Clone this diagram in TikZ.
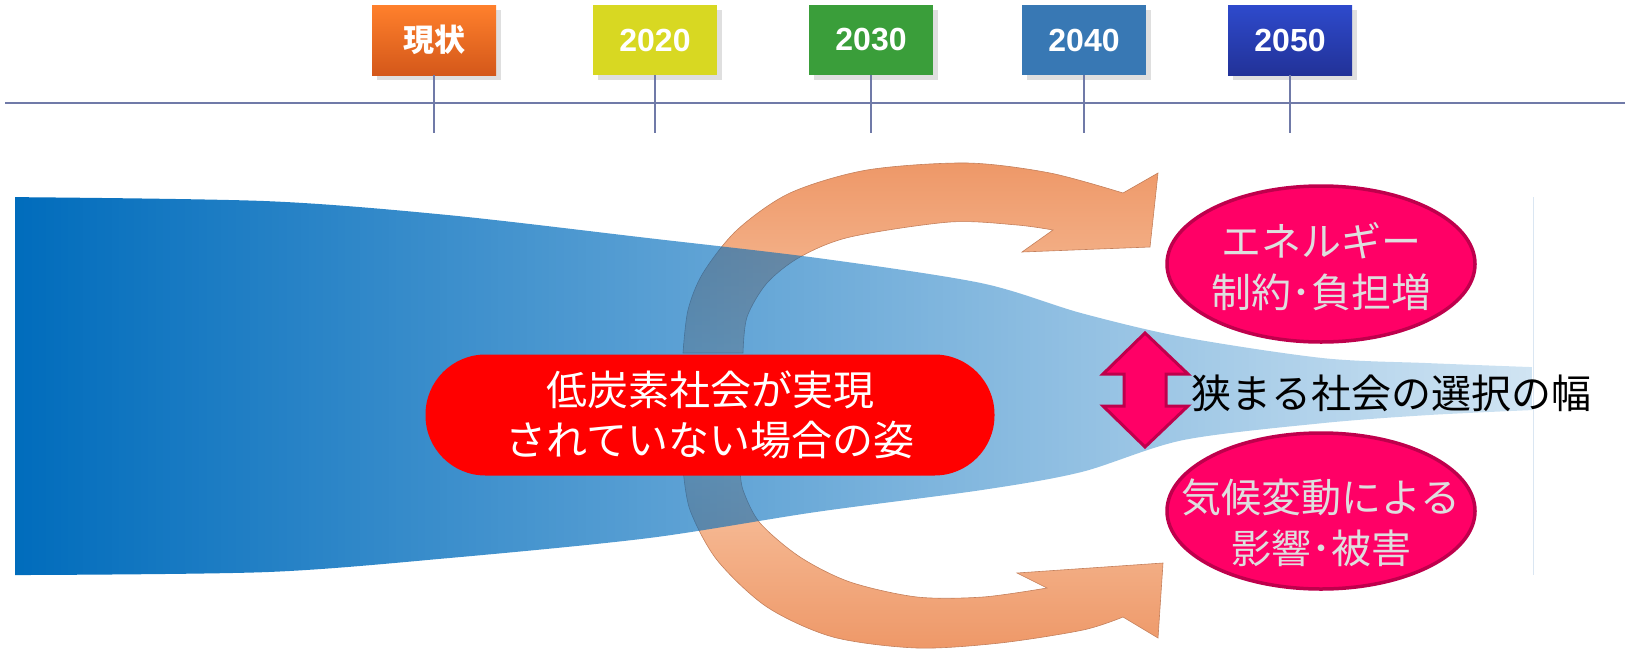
\documentclass[tikz,border=0pt]{standalone}
\usepackage{fontspec}
\setmainfont{Liberation Sans}
\newfontfamily\cjk{Noto Sans CJK JP}
\usetikzlibrary{fadings,shadows,shapes.geometric}

\definecolor{tickline}{RGB}{112,122,168}
\definecolor{bandblue}{RGB}{0,108,188}
\definecolor{bandedge}{RGB}{218,230,242}
\definecolor{peachdark}{RGB}{238,152,104}
\definecolor{peachlight}{RGB}{248,196,162}
\definecolor{peachedge}{RGB}{196,128,92}
\definecolor{outcomepink}{RGB}{255,0,102}
\definecolor{outcomeedge}{RGB}{190,0,76}
\definecolor{outcometext}{RGB}{222,222,222}

\tikzfading[name=bandfade, left color=transparent!0, right color=transparent!82]

\begin{document}
\begin{tikzpicture}[
    x = 1pt, y = -1pt, % pixel units, y downwards
    yearbox/.style = {rectangle, minimum width=124pt, minimum height=70pt,
        inner sep=0pt, text=white, font=\bfseries\fontsize{32}{38}\selectfont,
        drop shadow={shadow xshift=5pt, shadow yshift=-5pt, opacity=0.25}},
    tick/.style = {draw=tickline, line width=1.8pt},
    bend arrow/.style = {draw=peachedge, line width=0.6pt},
    scenario/.style = {rectangle, rounded corners=60pt, fill=red, text=white,
        minimum width=569pt, minimum height=121pt, inner sep=0pt,
        font=\cjk\fontsize{41}{50}\selectfont, align=center},
    outcome/.style = {ellipse, draw=outcomeedge, line width=3.5pt, fill=outcomepink,
        minimum width=308pt, minimum height=156pt, inner sep=0pt},
    outcome text/.style = {inner sep=0pt, text=outcometext,
        font=\cjk\fontsize{40}{51}\selectfont, align=center}
    ]
    \useasboundingbox (0,0) rectangle (1629,656);

    % timeline
    \coordinate (tl west) at (5,103);
    \coordinate (tl east) at (1625,103);
    \draw[tick] (tl west) -- (tl east);

    \node[yearbox, top color={rgb,255:red,255;green,128;blue,44}, bottom color={rgb,255:red,212;green,88;blue,26}]
        (now) at (434,40) {\cjk\bfseries\fontsize{31}{38}\selectfont 現状};
    \node[yearbox, fill={rgb,255:red,216;green,216;blue,34}] (y2020) at (655,40) {2020};
    \node[yearbox, fill={rgb,255:red,58;green,158;blue,58}] (y2030) at (871,40) {2030};
    \node[yearbox, fill={rgb,255:red,56;green,120;blue,180}] (y2040) at (1084,40) {2040};
    \node[yearbox, top color={rgb,255:red,46;green,74;blue,204}, bottom color={rgb,255:red,34;green,50;blue,152}]
        (y2050) at (1290,40) {2050};

    \coordinate (now tick) at (434,133);
    \coordinate (y2020 tick) at (655,133);
    \coordinate (y2030 tick) at (871,133);
    \coordinate (y2040 tick) at (1084,133);
    \coordinate (y2050 tick) at (1290,133);
    \draw[tick] (now.south) -- (now tick);
    \draw[tick] (y2020.south) -- (y2020 tick);
    \draw[tick] (y2030.south) -- (y2030 tick);
    \draw[tick] (y2040.south) -- (y2040 tick);
    \draw[tick] (y2050.south) -- (y2050 tick);

    % curved arrows (below the band)
    \path[bend arrow, top color=peachdark, bottom color=peachlight]
        plot[smooth] coordinates {(683,353) (688,310) (703,273) (737,230) (790,193) (867,170) (967,163) (1050,173) (1123,193)}
        -- (1158,173) -- (1150,247) -- (1022,252)
        -- plot[smooth] coordinates {(1053,230) (1017,225) (950,222) (850,237) (800,257) (767,283) (747,317) (743,353)}
        -- cycle;
    \path[bend arrow, top color=peachlight, bottom color=peachdark]
        plot[smooth] coordinates {(683,468) (690,510) (717,560) (767,607) (833,637) (917,648) (1000,643) (1083,630) (1123,617)}
        -- (1158,638) -- (1163,563) -- (1017,573)
        -- plot[smooth] coordinates {(1047,588) (983,597) (917,597) (850,582) (800,557) (760,523) (743,490) (740,468)}
        -- cycle;

    % band of choices
    \fill[bandblue, path fading=bandfade]
        plot[smooth] coordinates {(16,197) (268,201) (450,215) (650,238) (820,258) (983,283) (1083,313) (1185,337) (1325,358) (1430,363) (1534,367)}
        -- plot[smooth] coordinates {(1534,410) (1430,415) (1325,423) (1185,440) (1083,472) (983,490) (817,512) (650,538) (450,558) (268,572) (16,575)}
        -- cycle;
    \draw[bandedge, line width=1pt] (1533,197) -- (1533,575);

    \node[scenario] (scenario) at (710,415) {低炭素社会が実現\\されていない場合の姿};

    % narrowing width
    \fill[outcomepink, draw=outcomeedge, line width=3pt]
        (1145,333) -- (1188,374) -- (1166,374) -- (1166,406) -- (1188,406) -- (1145,447)
        -- (1103,406) -- (1124,406) -- (1124,374) -- (1103,374) -- cycle;
    \node[anchor=west, inner sep=0pt, font=\cjk\fontsize{40}{48}\selectfont] (width) at (1191,393) {狭まる社会の選択の幅};

    \node[outcome] (energy) at (1321,264) {};
    \node[outcome text] (energy text) at (1321,267) {エネルギー\\制約･負担増};
    \node[outcome] (climate) at (1321,511) {};
    \node[outcome text] (climate text) at (1321,523) {気候変動による\\影響･被害};
\end{tikzpicture}
\end{document}
